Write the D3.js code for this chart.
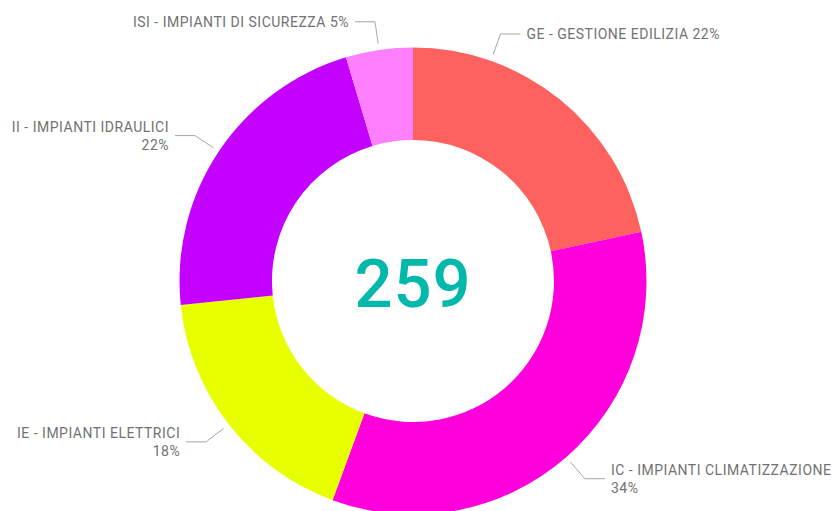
<!DOCTYPE html>
<html>
<head>
<meta charset="utf-8">
<script src="https://cdn.jsdelivr.net/npm/d3@7"></script>
<style>
  body { margin: 0; background: #fff; }
  svg { display: block; }
  .lbl { font-family: Roboto, "DejaVu Sans Condensed", sans-serif; font-size: 14px; letter-spacing: 0.5px; fill: #727272; }
  .total { font-family: Roboto, sans-serif; fill: #01b8aa; }
</style>
</head>
<body>
<svg id="chart" width="832" height="511"></svg>
<script>
// data
var codes = ['GE', 'IC', 'IE', 'II', 'ISI'];
var names = ['GESTIONE EDILIZIA', 'IMPIANTI CLIMATIZZAZIONE', 'IMPIANTI ELETTRICI', 'IMPIANTI IDRAULICI', 'IMPIANTI DI SICUREZZA'];
var counts = [56, 88, 46, 57, 12];
var colors = ['#fd625e', '#ff00dc', '#e8ff00', '#c400ff', '#ff80ff'];

// label layout: which labels put the % on a second line, and leader overrides (degrees)
var twoLine = {IC: true, IE: true, II: true};
var leaderAngle = {GE: 19.5};

var svg = d3.select('#chart');
var cx = 413, cy = 281, R = 233.5, r = 141;
var total = d3.sum(counts);

var pie = d3.pie().sort(null).value(function(d){ return d; });
var arcs = pie(counts);
var arc = d3.arc().innerRadius(r).outerRadius(R);

var g = svg.append('g').attr('transform', 'translate(' + cx + ',' + cy + ')');

g.selectAll('path.slice')
    .data(arcs)
  .enter().append('path')
    .attr('class', 'slice')
    .attr('d', arc)
    .attr('fill', function(d, i){ return colors[i]; });

// leaders + labels
var pt = function(a, rad){ return [Math.sin(a) * rad, -Math.cos(a) * rad]; };

arcs.forEach(function(d, i){
    var code = codes[i];
    var a = leaderAngle[code] !== undefined ? leaderAngle[code] * Math.PI / 180 : (d.startAngle + d.endAngle) / 2;
    var right = a < Math.PI;
    var p0 = pt(a, 240), p1 = pt(a, 262);
    var p2 = [p1[0] + (right ? 20 : -20), p1[1]];
    g.append('polyline')
        .attr('points', [p0, p1, p2].map(function(p){ return p.join(','); }).join(' '))
        .attr('fill', 'none')
        .attr('stroke', '#a6a6a6')
        .attr('stroke-width', 1);

    var pct = Math.round(counts[i] / total * 100) + '%';
    var tx = p2[0] + (right ? 6 : -6);
    var txt = g.append('text')
        .attr('class', 'lbl')
        .attr('text-anchor', right ? 'start' : 'end')
        .attr('x', tx);
    if (twoLine[code]) {
        txt.append('tspan').attr('x', tx).attr('y', p2[1] - 8.5).attr('dy', '0.35em')
            .text(code + ' - ' + names[i]);
        txt.append('tspan').attr('x', tx).attr('y', p2[1] + 9).attr('dy', '0.35em')
            .text(pct);
    } else {
        txt.attr('y', p2[1]).attr('dy', '0.35em').text(code + ' - ' + names[i] + ' ' + pct);
    }
});

// center total
g.append('text')
    .attr('class', 'total')
    .attr('text-anchor', 'middle')
    .attr('y', 26)
    .style('font-size', '67px')
    .style('font-weight', 500)
    .style('letter-spacing', '1px')
    .text(total);
</script>
</body>
</html>
